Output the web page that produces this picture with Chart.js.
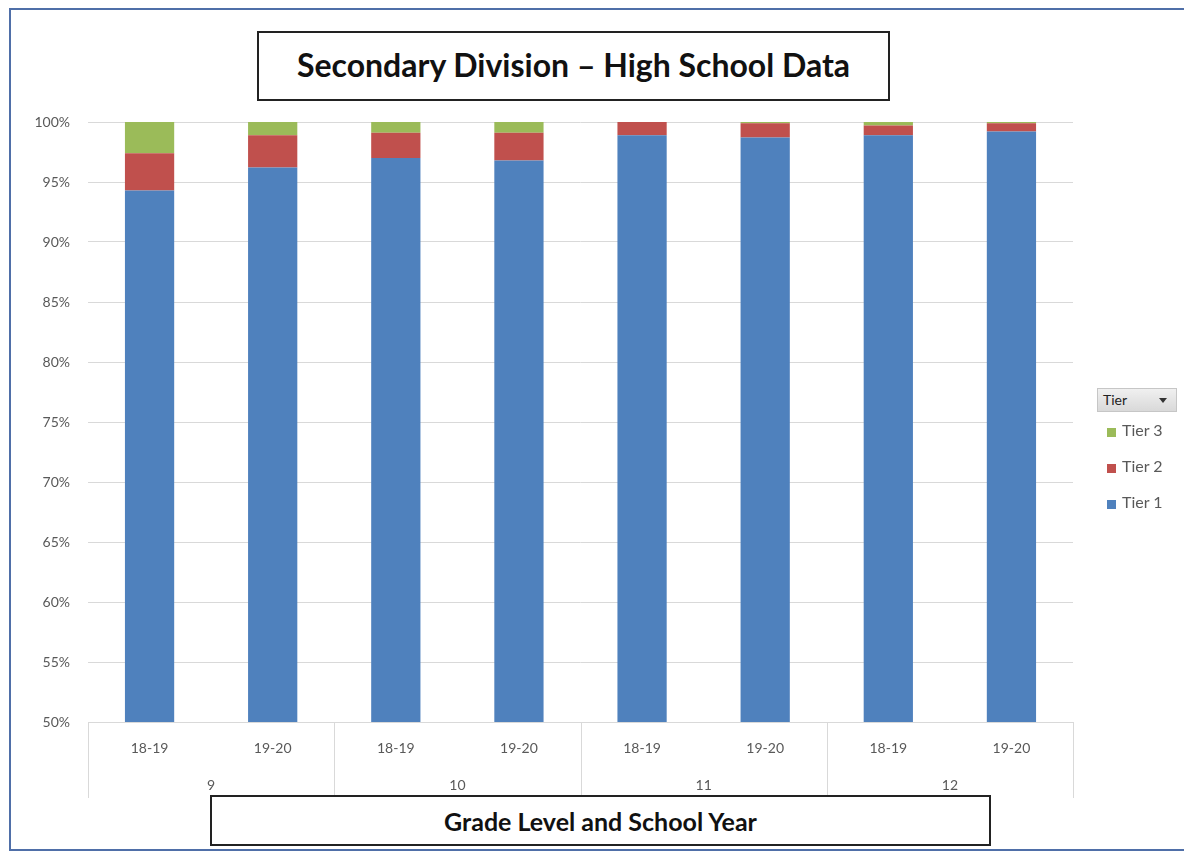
<!DOCTYPE html>
<html>
<head>
<meta charset="utf-8">
<script src="https://cdn.jsdelivr.net/npm/chart.js@4/dist/chart.umd.min.js"></script>
<style>
  html, body { margin: 0; padding: 0; background: #fff; }
  body { width: 1184px; height: 856px; position: relative; overflow: hidden; font-family: Lato, "Open Sans", sans-serif; }
  #frame { position: absolute; left: 9px; top: 8px; width: 1200px; height: 843px; border: 2px solid #4f6fa8; box-sizing: border-box; }
  #wrap { position: absolute; left: 0; top: 0; width: 1184px; height: 856px; }
  .box { position: absolute; border: 2px solid #222; background: #fff; box-sizing: border-box;
         display: flex; align-items: center; justify-content: center; font-weight: bold; color: #111; }
  #title { left: 257px; top: 31px; width: 633px; height: 70px; font-size: 32px; padding-bottom: 4px; }
  #xtitle { left: 210px; top: 795px; width: 781px; height: 51px; font-size: 25px; }
  #legend { position: absolute; left: 1097px; top: 388px; width: 80px; }
  #legend .head { height: 24px; background: linear-gradient(#f0f0f0, #d9d9d9); border: 1px solid #c6c6c6;
                  box-sizing: border-box; font-size: 14px; color: #222; padding-left: 5px; line-height: 22px; position: relative; }
  #legend .head:after { content: ""; position: absolute; right: 9px; top: 9px; border-left: 4px solid transparent;
                        border-right: 4px solid transparent; border-top: 5px solid #333; }
  #legend .item { height: 36px; line-height: 36px; font-size: 16px; color: #595959; padding-left: 10px; }
  #legend .item span { display: inline-block; width: 9px; height: 9px; margin-right: 6px; vertical-align: -1px; }
  #legend .item:first-of-type { margin-top: 6px; }
</style>
</head>
<body>
<div id="frame"></div>
<div id="wrap"><canvas id="chart" width="1184" height="856"></canvas></div>
<div class="box" id="title">Secondary Division – High School Data</div>
<div class="box" id="xtitle">Grade Level and School Year</div>
<div id="legend"><div class="head">Tier</div></div>
<script>
const grades = ["9", "10", "11", "12"]
const years = ["18-19", "19-20"]
const tier1 = [94.3, 96.2, 97.0, 96.8, 98.9, 98.7, 98.9, 99.2]
const tier2 = [3.1, 2.7, 2.1, 2.3, 1.1, 1.2, 0.8, 0.7]
const tier3 = [2.6, 1.1, 0.9, 0.9, 0.0, 0.1, 0.3, 0.1]
const yTicks = [50, 55, 60, 65, 70, 75, 80, 85, 90, 95, 100]

const BLUE = "#4f81bd"
const RED = "#c0504d"
const GREEN = "#9bbb59"
const GRID = "#d9d9d9"
const TEXT = "#595959"

const labels = grades.flatMap(() => years)

const groupAxis = {
  id: "groupAxis",
  afterDraw(chart) {
    const { ctx, chartArea } = chart
    const x = chart.scales.x
    const step = (chartArea.right - chartArea.left) / labels.length
    ctx.save()
    ctx.strokeStyle = GRID
    ctx.lineWidth = 1
    for (let i = 0; i <= grades.length; i++) {
      const px = Math.round(chartArea.left + i * step * years.length) + 0.5
      ctx.beginPath()
      ctx.moveTo(px, chartArea.bottom)
      ctx.lineTo(px, chartArea.bottom + 76)
      ctx.stroke()
    }
    ctx.fillStyle = TEXT
    ctx.font = "14px Lato"
    ctx.textAlign = "center"
    ctx.textBaseline = "middle"
    grades.forEach((g, i) => {
      const a = x.getPixelForValue(i * years.length)
      const b = x.getPixelForValue(i * years.length + years.length - 1)
      ctx.fillText(g, (a + b) / 2, chartArea.bottom + 63)
    })
    ctx.restore()
  },
}

const chart = new Chart(document.getElementById("chart"), {
  type: "bar",
  data: {
    labels,
    datasets: [
      { label: "Tier 1", data: tier1, backgroundColor: BLUE },
      { label: "Tier 2", data: tier2, backgroundColor: RED },
      { label: "Tier 3", data: tier3, backgroundColor: GREEN },
    ],
  },
  options: {
    responsive: false,
    animation: false,
    layout: { padding: { left: 10, right: 111, top: 122, bottom: 58 } },
    datasets: { bar: { barPercentage: 0.8, categoryPercentage: 0.5 } },
    plugins: { legend: { display: false }, tooltip: { enabled: false } },
    scales: {
      x: {
        stacked: true,
        grid: { display: false },
        border: { display: true, color: GRID },
        ticks: { color: TEXT, font: { family: "Lato", size: 14 }, padding: 10, maxRotation: 0 },
        afterFit: (s) => { s.height = 76 },
      },
      y: {
        stacked: true,
        min: 50,
        max: 100,
        afterBuildTicks: (s) => { s.ticks = yTicks.map((v) => ({ value: v })) },
        grid: { color: GRID, drawTicks: false },
        border: { display: false },
        ticks: { color: TEXT, font: { family: "Lato", size: 14 }, padding: 18, callback: (v) => v + "%" },
        afterFit: (s) => { s.width = 78 },
      },
    },
  },
  plugins: [groupAxis],
})

const legend = document.getElementById("legend")
chart.data.datasets.slice().reverse().forEach((ds) => {
  const item = document.createElement("div")
  item.className = "item"
  item.innerHTML = `<span style="background:${ds.backgroundColor}"></span>${ds.label}`
  legend.appendChild(item)
})
</script>
</body>
</html>
